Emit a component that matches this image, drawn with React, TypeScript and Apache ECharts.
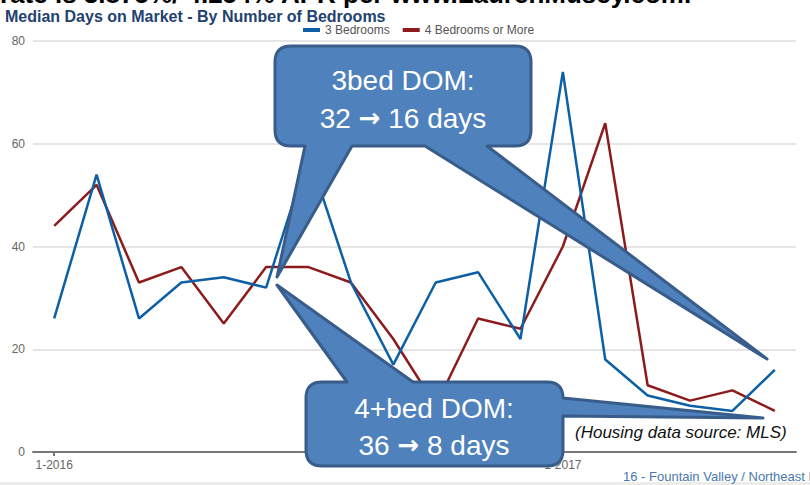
import React, { useEffect, useRef } from "react";
import * as echarts from "echarts";

const months = [
  "1-2016", "2-2016", "3-2016", "4-2016", "5-2016", "6-2016",
  "7-2016", "8-2016", "9-2016", "10-2016", "11-2016", "12-2016",
  "1-2017", "2-2017", "3-2017", "4-2017", "5-2017", "6-2017",
];
const beds3 = [26, 54, 26, 33, 34, 32, 58, 33, 17, 33, 35, 22, 74, 18, 11, 9, 8, 16];
const beds4 = [44, 52, 33, 36, 25, 36, 36, 33, 22, 9, 26, 24, 40, 64, 13, 10, 12, 8];
const seriesNames = ["3 Bedrooms", "4 Bedrooms or More"];
const titleText = "Median Days on Market - By Number of Bedrooms";
const topText = "rate is 3.875%/ 4.254% APR per www.LaurenMusey.com.";
const callout3Lines = ["3bed DOM:", "32 {a|\u2192} 16 days"];
const callout4Lines = ["4+bed DOM:", "36 {a|\u2192} 8 days"];
const sourceText = "(Housing data source: MLS)";
const footerText = "16 - Fountain Valley / Northeast HB";

const path3 =
  "M 291 46 L 515 46 Q 531 46 531 62 L 531 130 Q 531 146 515 146 L 487 146 L 767 359 L 425 146 L 352 146 L 277 277 L 305 146 L 291 146 Q 275 146 275 130 L 275 62 Q 275 46 291 46 Z";
const path4 =
  "M 322 382 L 347 382 L 277 285 L 413 382 L 547 382 Q 563 382 563 398 L 763 418 L 563 416 L 563 450 Q 563 466 547 466 L 322 466 Q 306 466 306 450 L 306 398 Q 306 382 322 382 Z";

let registered = false;
function registerShapes() {
  if (registered) return;
  echarts.graphic.registerShape("callout3", echarts.graphic.extendPath(path3, {}));
  echarts.graphic.registerShape("callout4", echarts.graphic.extendPath(path4, {}));
  registered = true;
}

const FONT = '"Liberation Sans", Arial, sans-serif';

export default function App() {
  const ref = useRef<HTMLDivElement>(null);
  useEffect(() => {
    if (!ref.current) return;
    registerShapes();
    const chart = echarts.init(ref.current, undefined, { renderer: "svg" });
    const calloutStyle = {
      fill: "#4f81bd",
      stroke: "#385d8a",
      lineWidth: 3,
      lineJoin: "round",
    };
    const whiteText = (text: string, x: number, y: number) => ({
      type: "text",
      x,
      y,
      z: 20,
      style: {
        text,
        fill: "#ffffff",
        font: `28px ${FONT}`,
        align: "center",
        verticalAlign: "middle",
        rich: {
          a: { fill: "#ffffff", font: `bold 26px "DejaVu Sans", sans-serif` },
        },
      },
    });
    chart.setOption({
      animation: false,
      backgroundColor: "#ffffff",
      textStyle: { fontFamily: FONT },
      title: {
        text: titleText,
        left: 0,
        top: 3,
        textStyle: { fontSize: 16, fontWeight: "bold", color: "#1f4270", fontFamily: FONT },
      },
      legend: {
        left: 298,
        top: 19,
        itemWidth: 17,
        itemHeight: 4,
        itemGap: 13,
        icon: "rect",
        textStyle: { fontSize: 12, color: "#555", fontFamily: FONT },
        data: seriesNames,
      },
      grid: { left: 33, right: 14, top: 41, bottom: 33 },
      xAxis: {
        type: "category",
        data: months,
        boundaryGap: true,
        axisLine: { lineStyle: { color: "#777", width: 2 } },
        axisTick: {
          show: true,
          alignWithLabel: true,
          interval: (i: number) => i % 12 === 0,
          length: 4,
          lineStyle: { color: "#777", width: 2 },
        },
        axisLabel: {
          interval: (i: number) => i % 12 === 0,
          color: "#666",
          fontSize: 12,
          margin: 7,
          fontFamily: FONT,
        },
      },
      yAxis: {
        type: "value",
        min: 0,
        max: 80,
        interval: 20,
        axisLine: { show: false },
        axisTick: { show: false },
        splitLine: { lineStyle: { color: "#dddddd", width: 1.5 } },
        axisLabel: { color: "#666", fontSize: 12, margin: 8, fontFamily: FONT },
      },
      series: [
        {
          name: seriesNames[0],
          type: "line",
          data: beds3,
          showSymbol: false,
          symbol: "none",
          color: "#0d5fa6",
          lineStyle: { color: "#0d5fa6", width: 2.5 },
          z: 3,
        },
        {
          name: seriesNames[1],
          type: "line",
          data: beds4,
          showSymbol: false,
          symbol: "none",
          color: "#8c1c1c",
          lineStyle: { color: "#8c1c1c", width: 2.5 },
          z: 2,
        },
      ],
      graphic: [
        {
          type: "text",
          x: 0,
          y: -6,
          style: {
            text: topText,
            fill: "#000",
            font: `bold 26px ${FONT}`,
            align: "left",
            verticalAlign: "middle",
          },
        },
        {
          type: "callout3",
          x: 0,
          y: 0,
          z: 10,
          style: calloutStyle,
        },
        {
          type: "callout4",
          x: 0,
          y: 0,
          z: 10,
          style: calloutStyle,
        },
        whiteText(callout3Lines[0], 403, 80),
        whiteText(callout3Lines[1], 403, 118),
        whiteText(callout4Lines[0], 434, 408),
        whiteText(callout4Lines[1], 434, 445),
        {
          type: "text",
          x: 575,
          y: 432,
          z: 20,
          style: {
            text: sourceText,
            fill: "#111",
            font: `italic 17px ${FONT}`,
            align: "left",
            verticalAlign: "middle",
          },
        },
        {
          type: "text",
          x: 623,
          y: 476,
          z: 20,
          style: {
            text: footerText,
            fill: "#4a78ad",
            font: `13px ${FONT}`,
            align: "left",
            verticalAlign: "middle",
          },
        },
        {
          type: "rect",
          shape: { x: 0, y: 482, width: 810, height: 3 },
          z: 5,
          style: { fill: "#ececec" },
        },
      ],
    });
    return () => chart.dispose();
  }, []);
  return (
    <div
      ref={ref}
      style={{ position: "absolute", left: 0, top: 0, width: 810, height: 485 }}
    />
  );
}
